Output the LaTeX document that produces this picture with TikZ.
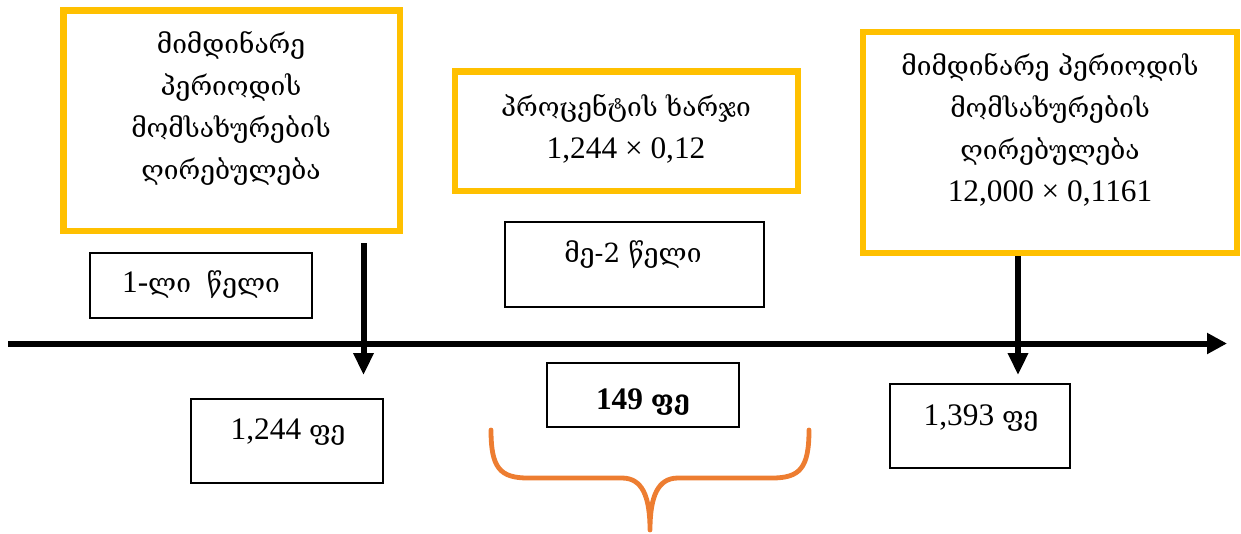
\documentclass[tikz,border=0pt]{standalone}
\usepackage{fontspec}
\setmainfont{Liberation Serif}
\newfontfamily\geo[Scale=0.84]{DejaVu Serif}
\usetikzlibrary{arrows.meta}
\definecolor{gold}{HTML}{FFC000}
\definecolor{bracecol}{HTML}{ED7D31}
\begin{document}
\begin{tikzpicture}[x=0.75pt,y=-0.75pt,
  ybox/.style={draw=gold,line width=4.9pt,inner sep=0pt},
  bbox/.style={draw=black,line width=1.1pt,inner sep=0pt},
  txt/.style={align=center,inner sep=0pt,font=\fontsize{23.5}{31.5}\selectfont},
  conn/.style={line width=4.5pt,-{Triangle[length=16.5pt,width=14.5pt]}}]
\useasboundingbox (0,0) rectangle (1241,533);
% yellow boxes
\node[ybox,minimum width=252.4pt,minimum height=165.4pt] (y1) at (231.75,120.75) {};
\node[ybox,minimum width=257.25pt,minimum height=89.6pt] (y2) at (626.5,131.25) {};
\node[ybox,minimum width=280.5pt,minimum height=165.75pt] (y3) at (1050,142.5) {};
% black boxes
\node[bbox,minimum width=166.5pt,minimum height=48.75pt] (b1) at (201,285.5) {};
\node[bbox,minimum width=194.25pt,minimum height=63.75pt] (b2) at (634.5,264.5) {};
\node[bbox,minimum width=144pt,minimum height=63pt] (b3) at (287,441) {};
\node[bbox,minimum width=144pt,minimum height=48pt] (b4) at (643,395) {};
\node[bbox,minimum width=135pt,minimum height=63pt] (b5) at (980,426) {};
% texts
\node[txt] (t1) at (231,108) {\geo მიმდინარე\\\geo პერიოდის\\\geo მომსახურების\\\geo ღირებულება};
\node[txt] (t2) at (626,129) {{\geo პროცენტის ხარჯი}\\1,244 × 0,12};
\node[txt] (t3) at (1050,130) {{\geo მიმდინარე პერიოდის}\\\geo მომსახურების\\\geo ღირებულება\\12,000 × 0,1161};
\node[txt] (t4) at (201,285) {1-{\geo ლი}\hspace{12pt}{\geo წელი}};
\node[txt] (t5) at (633,255) {\geo მე-2 წელი};
\node[txt] (t6) at (288,432) {1,244 {\geo ფე}};
\node[txt,font=\fontsize{23.5}{31.5}\selectfont\bfseries] (t7) at (643,402) {149 {\geo ფე}};
\node[txt] (t8) at (981,418) {1,393 {\geo ფე}};
% timeline
\coordinate (l0) at (8,343.5);
\coordinate (l1) at (1227,343.5);
\draw[line width=4.5pt,-{Triangle[length=15pt,width=15pt]}] (l0) -- (l1);
% vertical arrows
\coordinate (a1s) at (363.5,243);
\coordinate (a1e) at (363.5,375);
\draw[conn] (a1s) -- (a1e);
\coordinate (a2e) at (1018,375);
\draw[conn] (y3.south -| a2e) -- (a2e);
% brace
\coordinate (br0) at (491,430);
\coordinate (brm) at (650,530);
\coordinate (br1) at (809,430);
\draw[bracecol,line width=3.6pt,line cap=round,line join=round]
  (br0) .. controls (491,468) and (500,478) .. (528,478) -- (622,478)
  .. controls (642,478) and (650,496) .. (brm)
  .. controls (650,496) and (658,478) .. (678,478) -- (772,478)
  .. controls (800,478) and (809,468) .. (br1);
\end{tikzpicture}
\end{document}
